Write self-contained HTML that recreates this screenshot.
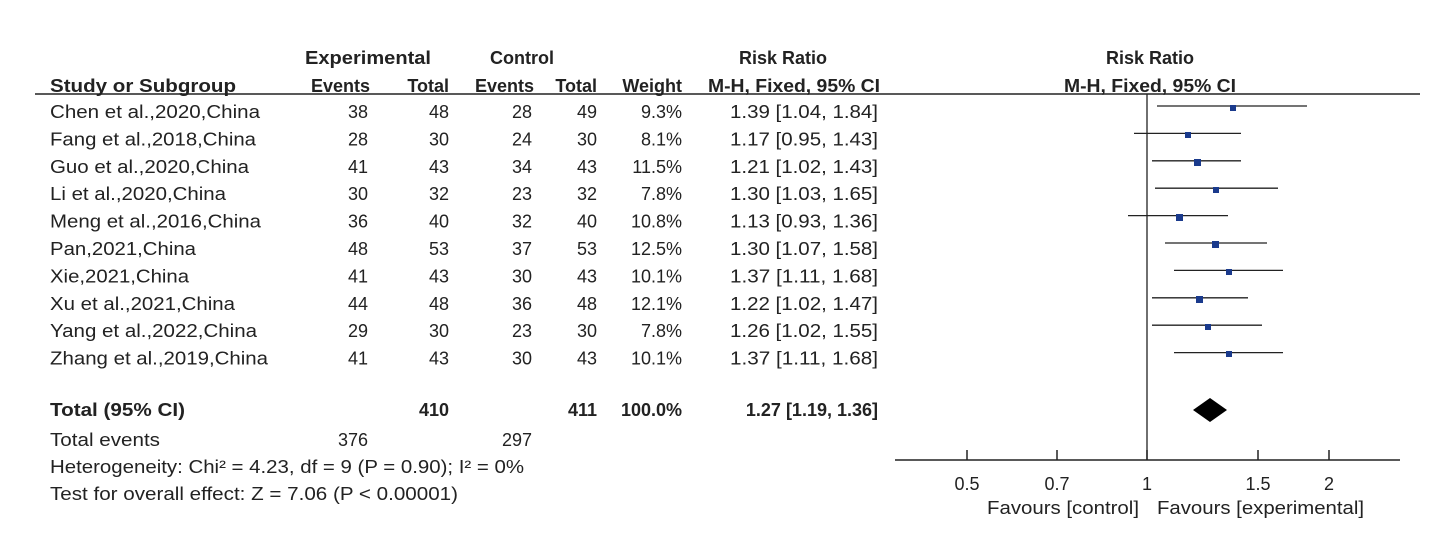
<!DOCTYPE html>
<html><head><meta charset="utf-8"><style>
body{margin:0;background:#fff;}
</style></head><body>
<svg width="1437" height="537" xmlns="http://www.w3.org/2000/svg" font-family="'Liberation Sans', Arial, sans-serif" font-size="18" fill="#222">
<rect width="1437" height="537" fill="#fff"/>
<g font-weight="bold">
<text x="305" y="64" textLength="126" lengthAdjust="spacingAndGlyphs">Experimental</text>
<text x="522" y="64" text-anchor="middle">Control</text>
<text x="783" y="64" text-anchor="middle">Risk Ratio</text>
<text x="1150" y="64" text-anchor="middle">Risk Ratio</text>
<text x="50" y="92" textLength="186" lengthAdjust="spacingAndGlyphs">Study or Subgroup</text>
<text x="370" y="92" text-anchor="end">Events</text>
<text x="449" y="92" text-anchor="end">Total</text>
<text x="534" y="92" text-anchor="end">Events</text>
<text x="597" y="92" text-anchor="end">Total</text>
<text x="682" y="92" text-anchor="end">Weight</text>
<text x="708" y="92" textLength="172" lengthAdjust="spacingAndGlyphs">M-H, Fixed, 95% CI</text>
<text x="1064" y="92" textLength="172" lengthAdjust="spacingAndGlyphs">M-H, Fixed, 95% CI</text>
</g>
<line x1="35" y1="94" x2="1420" y2="94" stroke="#222" stroke-width="1.5"/>
<line x1="1147" y1="94" x2="1147" y2="460" stroke="#222" stroke-width="1.3"/>

<g>
<text x="50" y="118" textLength="210" lengthAdjust="spacingAndGlyphs">Chen et al.,2020,China</text>
<text x="368" y="118" text-anchor="end">38</text><text x="449" y="118" text-anchor="end">48</text>
<text x="532" y="118" text-anchor="end">28</text><text x="597" y="118" text-anchor="end">49</text>
<text x="682" y="118" text-anchor="end">9.3%</text>
<text x="730" y="118" textLength="148" lengthAdjust="spacingAndGlyphs">1.39 [1.04, 1.84]</text>

<text x="50" y="145.4" textLength="206" lengthAdjust="spacingAndGlyphs">Fang et al.,2018,China</text>
<text x="368" y="145.4" text-anchor="end">28</text><text x="449" y="145.4" text-anchor="end">30</text>
<text x="532" y="145.4" text-anchor="end">24</text><text x="597" y="145.4" text-anchor="end">30</text>
<text x="682" y="145.4" text-anchor="end">8.1%</text>
<text x="730" y="145.4" textLength="148" lengthAdjust="spacingAndGlyphs">1.17 [0.95, 1.43]</text>

<text x="50" y="172.8" textLength="199" lengthAdjust="spacingAndGlyphs">Guo et al.,2020,China</text>
<text x="368" y="172.8" text-anchor="end">41</text><text x="449" y="172.8" text-anchor="end">43</text>
<text x="532" y="172.8" text-anchor="end">34</text><text x="597" y="172.8" text-anchor="end">43</text>
<text x="682" y="172.8" text-anchor="end">11.5%</text>
<text x="730" y="172.8" textLength="148" lengthAdjust="spacingAndGlyphs">1.21 [1.02, 1.43]</text>

<text x="50" y="200.2" textLength="176" lengthAdjust="spacingAndGlyphs">Li et al.,2020,China</text>
<text x="368" y="200.2" text-anchor="end">30</text><text x="449" y="200.2" text-anchor="end">32</text>
<text x="532" y="200.2" text-anchor="end">23</text><text x="597" y="200.2" text-anchor="end">32</text>
<text x="682" y="200.2" text-anchor="end">7.8%</text>
<text x="730" y="200.2" textLength="148" lengthAdjust="spacingAndGlyphs">1.30 [1.03, 1.65]</text>

<text x="50" y="227.6" textLength="211" lengthAdjust="spacingAndGlyphs">Meng et al.,2016,China</text>
<text x="368" y="227.6" text-anchor="end">36</text><text x="449" y="227.6" text-anchor="end">40</text>
<text x="532" y="227.6" text-anchor="end">32</text><text x="597" y="227.6" text-anchor="end">40</text>
<text x="682" y="227.6" text-anchor="end">10.8%</text>
<text x="730" y="227.6" textLength="148" lengthAdjust="spacingAndGlyphs">1.13 [0.93, 1.36]</text>

<text x="50" y="255" textLength="146" lengthAdjust="spacingAndGlyphs">Pan,2021,China</text>
<text x="368" y="255" text-anchor="end">48</text><text x="449" y="255" text-anchor="end">53</text>
<text x="532" y="255" text-anchor="end">37</text><text x="597" y="255" text-anchor="end">53</text>
<text x="682" y="255" text-anchor="end">12.5%</text>
<text x="730" y="255" textLength="148" lengthAdjust="spacingAndGlyphs">1.30 [1.07, 1.58]</text>

<text x="50" y="282.4" textLength="139" lengthAdjust="spacingAndGlyphs">Xie,2021,China</text>
<text x="368" y="282.4" text-anchor="end">41</text><text x="449" y="282.4" text-anchor="end">43</text>
<text x="532" y="282.4" text-anchor="end">30</text><text x="597" y="282.4" text-anchor="end">43</text>
<text x="682" y="282.4" text-anchor="end">10.1%</text>
<text x="730" y="282.4" textLength="148" lengthAdjust="spacingAndGlyphs">1.37 [1.11, 1.68]</text>

<text x="50" y="309.8" textLength="185" lengthAdjust="spacingAndGlyphs">Xu et al.,2021,China</text>
<text x="368" y="309.8" text-anchor="end">44</text><text x="449" y="309.8" text-anchor="end">48</text>
<text x="532" y="309.8" text-anchor="end">36</text><text x="597" y="309.8" text-anchor="end">48</text>
<text x="682" y="309.8" text-anchor="end">12.1%</text>
<text x="730" y="309.8" textLength="148" lengthAdjust="spacingAndGlyphs">1.22 [1.02, 1.47]</text>

<text x="50" y="337.2" textLength="207" lengthAdjust="spacingAndGlyphs">Yang et al.,2022,China</text>
<text x="368" y="337.2" text-anchor="end">29</text><text x="449" y="337.2" text-anchor="end">30</text>
<text x="532" y="337.2" text-anchor="end">23</text><text x="597" y="337.2" text-anchor="end">30</text>
<text x="682" y="337.2" text-anchor="end">7.8%</text>
<text x="730" y="337.2" textLength="148" lengthAdjust="spacingAndGlyphs">1.26 [1.02, 1.55]</text>

<text x="50" y="364.6" textLength="218" lengthAdjust="spacingAndGlyphs">Zhang et al.,2019,China</text>
<text x="368" y="364.6" text-anchor="end">41</text><text x="449" y="364.6" text-anchor="end">43</text>
<text x="532" y="364.6" text-anchor="end">30</text><text x="597" y="364.6" text-anchor="end">43</text>
<text x="682" y="364.6" text-anchor="end">10.1%</text>
<text x="730" y="364.6" textLength="148" lengthAdjust="spacingAndGlyphs">1.37 [1.11, 1.68]</text>
</g>

<g stroke="#222" stroke-width="1.3">
<line x1="1157" y1="106" x2="1307" y2="106"/>
<line x1="1134" y1="133.4" x2="1241" y2="133.4"/>
<line x1="1152" y1="160.8" x2="1241" y2="160.8"/>
<line x1="1155" y1="188.2" x2="1278" y2="188.2"/>
<line x1="1128" y1="215.6" x2="1228" y2="215.6"/>
<line x1="1165" y1="243" x2="1267" y2="243"/>
<line x1="1174" y1="270.4" x2="1283" y2="270.4"/>
<line x1="1152" y1="297.8" x2="1248" y2="297.8"/>
<line x1="1152" y1="325.2" x2="1262" y2="325.2"/>
<line x1="1174" y1="352.6" x2="1283" y2="352.6"/>
</g>
<g fill="#1a3a8c">
<rect x="1230" y="105" width="6" height="6"/>
<rect x="1185" y="132" width="6" height="6"/>
<rect x="1194" y="159" width="7" height="7"/>
<rect x="1213" y="187" width="6" height="6"/>
<rect x="1176" y="214" width="7" height="7"/>
<rect x="1212" y="241" width="7" height="7"/>
<rect x="1226" y="269" width="6" height="6"/>
<rect x="1196" y="296" width="7" height="7"/>
<rect x="1205" y="324" width="6" height="6"/>
<rect x="1226" y="351" width="6" height="6"/>
</g>

<g font-weight="bold">
<text x="50" y="416" textLength="135" lengthAdjust="spacingAndGlyphs">Total (95% CI)</text>
<text x="449" y="416" text-anchor="end">410</text>
<text x="597" y="416" text-anchor="end">411</text>
<text x="682" y="416" text-anchor="end">100.0%</text>
<text x="878" y="416" text-anchor="end">1.27 [1.19, 1.36]</text>
</g>
<polygon points="1193,410 1210,398 1227,410 1210,422" fill="#000"/>
<text x="50" y="446" textLength="110" lengthAdjust="spacingAndGlyphs">Total events</text>
<text x="368" y="446" text-anchor="end">376</text>
<text x="532" y="446" text-anchor="end">297</text>
<text x="50" y="473" textLength="474" lengthAdjust="spacingAndGlyphs">Heterogeneity: Chi² = 4.23, df = 9 (P = 0.90); I² = 0%</text>
<text x="50" y="500" textLength="408" lengthAdjust="spacingAndGlyphs">Test for overall effect: Z = 7.06 (P &lt; 0.00001)</text>

<line x1="895" y1="460" x2="1400" y2="460" stroke="#222" stroke-width="1.5"/>
<g stroke="#222" stroke-width="1.5">
<line x1="967" y1="450" x2="967" y2="460"/><line x1="1057" y1="450" x2="1057" y2="460"/>
<line x1="1147" y1="450" x2="1147" y2="460"/><line x1="1258" y1="450" x2="1258" y2="460"/>
<line x1="1329" y1="450" x2="1329" y2="460"/></g>
<text x="967" y="490" text-anchor="middle">0.5</text>
<text x="1057" y="490" text-anchor="middle">0.7</text>
<text x="1147" y="490" text-anchor="middle">1</text>
<text x="1258" y="490" text-anchor="middle">1.5</text>
<text x="1329" y="490" text-anchor="middle">2</text>
<text x="987" y="514" textLength="152" lengthAdjust="spacingAndGlyphs">Favours [control]</text>
<text x="1157" y="514" textLength="207" lengthAdjust="spacingAndGlyphs">Favours [experimental]</text>
</svg>
</body></html>
